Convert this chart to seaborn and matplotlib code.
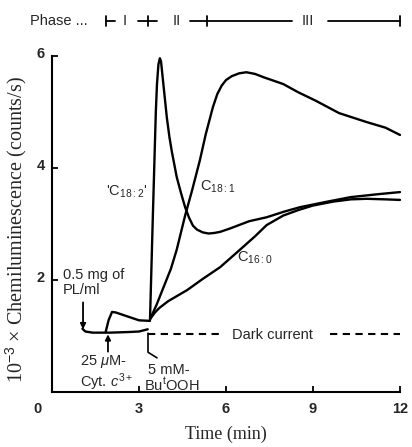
import matplotlib
matplotlib.use("Agg")
import matplotlib.pyplot as plt
from matplotlib.transforms import ScaledTranslation
import seaborn as sns
import pandas as pd

# ---------------- data ----------------
pre_base_t = [1.05, 1.15, 1.4, 2.0, 2.6, 3.0, 3.3]
pre_base_y = [1.13, 1.08, 1.06, 1.06, 1.07, 1.08, 1.12]

pre_cyt_t = [1.85, 1.95, 2.07, 2.2, 2.6, 3.0, 3.38]
pre_cyt_y = [1.07, 1.28, 1.43, 1.42, 1.35, 1.28, 1.27]

c182_t = [3.38, 3.47, 3.58, 3.62, 3.67, 3.72, 3.76, 3.82, 3.9, 3.96, 4.05, 4.13,
          4.3, 4.45, 4.59, 4.72, 4.86, 5.0, 5.2, 5.4, 5.6, 5.8, 6.14, 6.8, 7.4,
          8.0, 8.55, 9.5, 10.3, 11.2, 12.0]
c182_y = [1.3, 3.0, 5.0, 5.5, 5.85, 5.96, 5.9, 5.6, 5.2, 4.9, 4.55, 4.3,
          3.84, 3.55, 3.3, 3.12, 2.97, 2.9, 2.85, 2.83, 2.84, 2.86, 2.92, 3.05, 3.12,
          3.22, 3.3, 3.4, 3.48, 3.53, 3.57]

c181_t = [3.38, 3.6, 3.83, 4.1, 4.3, 4.59, 4.83, 5.1, 5.3, 5.55, 5.7, 5.85, 6.0,
          6.2, 6.45, 6.7, 7.0, 7.3, 7.97, 8.5, 9.1, 9.9, 10.85, 11.5, 12.0]
c181_y = [1.3, 1.55, 1.85, 2.2, 2.54, 3.15, 3.6, 4.14, 4.6, 5.09, 5.32, 5.47, 5.57,
          5.64, 5.69, 5.71, 5.68, 5.62, 5.5, 5.35, 5.2, 4.98, 4.82, 4.72, 4.59]

c160_t = [3.38, 3.55, 3.7, 4.0, 4.66, 5.2, 5.8, 6.48, 7.0, 7.4, 7.97, 8.5, 9.0,
          9.7, 10.3, 10.85, 11.5, 12.0]
c160_y = [1.3, 1.42, 1.5, 1.62, 1.82, 2.02, 2.23, 2.54, 2.78, 2.98, 3.15, 3.25, 3.33,
          3.4, 3.44, 3.45, 3.44, 3.43]

dark_t1 = [3.3, 5.75]
dark_t2 = [9.6, 12.15]
dark_level = 1.04

x_ticks = [0, 3, 6, 9, 12]
y_ticks = [2, 4, 6]

# ---------------- figure ----------------
sns.set_style("ticks")
plt.rcParams['font.family'] = ['Liberation Sans', 'DejaVu Sans']
plt.rcParams['mathtext.fontset'] = 'custom'
plt.rcParams['mathtext.rm'] = 'Liberation Sans'
plt.rcParams['mathtext.it'] = 'Liberation Sans:italic'

fig = plt.figure(figsize=(4.12, 4.47), dpi=100)
ax = fig.add_axes([52 / 412, 55 / 447, 348 / 412, 336 / 447])

lw = 1.7
for t, y in [(pre_base_t, pre_base_y), (pre_cyt_t, pre_cyt_y),
             (c182_t, c182_y), (c181_t, c181_y), (c160_t, c160_y)]:
    df = pd.DataFrame({"t": t, "y": y})
    sns.lineplot(data=df, x="t", y="y", ax=ax, color="black", lw=lw,
                 estimator=None, sort=False, clip_on=False)

for seg in (dark_t1, dark_t2):
    ax.plot(seg, [dark_level] * 2, color="black", lw=1.5, ls=(0, (3.5, 2.6)))

ax.set_xlim(0, 12)
ax.set_ylim(0, 6)
ax.set_xticks(x_ticks)
ax.set_yticks(y_ticks)
ax.set_xticklabels([str(v) for v in x_ticks], fontsize=10.5, fontweight="bold")
ax.set_yticklabels([str(v) for v in y_ticks], fontsize=10.5, fontweight="bold")
ax.tick_params(direction="in", length=4, width=1.3, color="black")
ax.tick_params(axis="x", pad=7)
ax.tick_params(axis="y", pad=5)
lab0 = ax.get_xticklabels()[0]
lab0.set_transform(lab0.get_transform() + ScaledTranslation(-14 / 100, 0, fig.dpi_scale_trans))
for lab in ax.get_yticklabels():
    lab.set_transform(lab.get_transform() + ScaledTranslation(0, 3 / 100, fig.dpi_scale_trans))

sns.despine(ax=ax)
for s in ("left", "bottom"):
    ax.spines[s].set_linewidth(1.5)
    ax.spines[s].set_color("black")
ax.set_xlabel("")
ax.set_ylabel("")

fig.text(16 / 412, (447 - 230) / 447, r"10$^{-3}$ × Chemiluminescence (counts/s)",
         rotation=90, ha="center", va="center", fontsize=14.5,
         family=["Liberation Serif", "DejaVu Serif"])
fig.text(226 / 412, (447 - 434) / 447, "Time (min)", ha="center", va="center",
         fontsize=13, family=["Liberation Serif", "DejaVu Serif"])

# ---------------- curve labels ----------------
fs = 10.5
ax.text(3.3, 3.57, r"'C$_{18:2}$'", ha="right", va="center", fontsize=fs)
ax.text(5.1, 3.66, r"C$_{18:1}$", ha="left", va="center", fontsize=fs)
ax.text(6.38, 2.39, r"C$_{16:0}$", ha="left", va="center", fontsize=fs)
ax.text(6.2, 1.02, "Dark current", ha="left", va="center", fontsize=fs)

ax.text(0.38, 2.09, "0.5 mg of", ha="left", va="center", fontsize=fs)
ax.text(0.38, 1.82, "PL/ml", ha="left", va="center", fontsize=fs)
ax.annotate("", xy=(1.07, 1.12), xytext=(1.07, 1.6),
            arrowprops=dict(arrowstyle="-|>", color="black", lw=1.3,
                            mutation_scale=8, shrinkA=0, shrinkB=0))

ax.text(0.97, 0.54, r"25 $\mu$M-", ha="left", va="center", fontsize=fs)
ax.text(0.97, 0.18, r"Cyt. $\it{c}^{3+}$", ha="left", va="center", fontsize=fs)
ax.annotate("", xy=(1.93, 1.03), xytext=(1.93, 0.72),
            arrowprops=dict(arrowstyle="-|>", color="black", lw=1.3,
                            mutation_scale=8, shrinkA=0, shrinkB=0))

ax.text(3.31, 0.39, "5 mM-", ha="left", va="center", fontsize=fs)
ax.text(3.17, 0.125, r"Bu$^{\rm t}$OOH", ha="left", va="center", fontsize=fs)
ax.plot([3.31, 3.31, 3.62], [1.05, 0.71, 0.61], color="black", lw=1.2)

# ---------------- phase bar ----------------
py = 6.62
th = 0.09
pfs = 10.5
ax.text(1.24, py, "Phase ...", ha="right", va="center", fontsize=pfs, clip_on=False)
kw = dict(color="black", lw=1.3, clip_on=False)
ax.plot([1.86, 2.17], [py, py], **kw)
ax.plot([1.86, 1.86], [py - th, py + th], **kw)
ax.text(2.52, py, "I", ha="center", va="center", fontsize=pfs, clip_on=False)
ax.plot([2.97, 3.62], [py, py], **kw)
ax.plot([3.31, 3.31], [py - th, py + th], **kw)
ax.text(4.31, py, "II", ha="center", va="center", fontsize=pfs, clip_on=False)
ax.plot([4.76, 8.28], [py, py], **kw)
ax.plot([5.34, 5.34], [py - th, py + th], **kw)
ax.text(8.83, py, "III", ha="center", va="center", fontsize=pfs, clip_on=False)
ax.plot([9.52, 12.0], [py, py], **kw)
ax.plot([12.0, 12.0], [py - th, py + th], **kw)

fig.savefig("out.png", dpi=100)
